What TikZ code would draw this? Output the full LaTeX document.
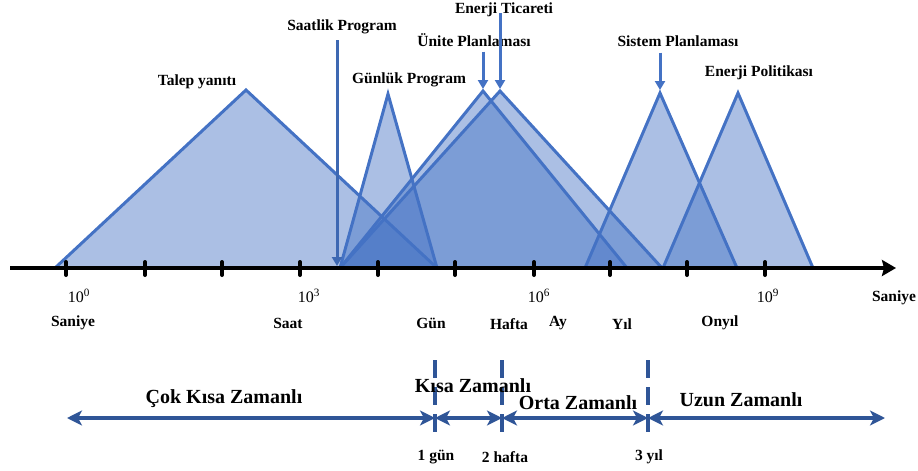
\documentclass[tikz,border=0pt]{standalone}
\usepackage{fontspec}
\setmainfont{Liberation Serif}
\usetikzlibrary{arrows.meta,positioning,calc}
\definecolor{tribl}{RGB}{68,114,196}
\definecolor{pinbl}{RGB}{62,104,178}
\definecolor{spanbl}{RGB}{47,85,151}
\tikzset{
  tri/.style    = { draw=tribl, line width=3pt, fill=tribl, fill opacity=0.45 },
  pin/.style    = { draw=#1, line width=3pt, -{Triangle[length=9pt,width=10pt]} },
  pin/.default  = tribl,
  axisln/.style = { draw=black, line width=4pt, -{Stealth[length=14pt,width=16pt,inset=2pt]} },
  tickln/.style = { draw=black, line width=4pt, line cap=round },
  sepln/.style  = { draw=spanbl, line width=4pt, dash pattern=on 18pt off 9pt },
  spanln/.style = { draw=spanbl, line width=3.5pt,
    {Stealth[length=15pt,width=15pt,inset=4pt]}-{Stealth[length=15pt,width=15pt,inset=4pt]} },
  lbl/.style    = { font=\fontsize{15.5}{17}\selectfont\bfseries, inner sep=0pt },
  pwlbl/.style  = { font=\fontsize{16}{18}\selectfont, inner sep=0pt },
  spanlbl/.style= { font=\fontsize{20}{22}\selectfont\bfseries, inner sep=0pt }
}

\begin{document}
\begin{tikzpicture}[x=1pt,y=-1pt]
  \useasboundingbox (0,0) rectangle (918,471);
  % apexes of the time-scale triangles
  \coordinate (apTalep)  at (246,90);
  \coordinate (apGunluk) at (388,94);
  \coordinate (apUnite)  at (483,91);
  \coordinate (apTicar)  at (500,91);
  \coordinate (apSistem) at (660,93);
  \coordinate (apPolit)  at (738,93);
  \coordinate (apSaat)   at (337,266);

  \path[tri] (55,268) -- (apTalep) -- (437,268) -- cycle;
  \path[tri] (340,268) -- (apGunluk) -- (437,268) -- cycle;
  \path[tri] (340,268) -- (apUnite) -- (627,268) -- cycle;
  \path[tri] (340,268) -- (apTicar) -- (662,268) -- cycle;
  \path[tri] (585,268) -- (apSistem) -- (737,268) -- cycle;
  \path[tri] (663,268) -- (apPolit) -- (813,268) -- cycle;

  % labels above
  \node[lbl] (talep)   at (197,82) {Talep yanıtı};
  \node[lbl] (saatlik) at (342,27) {Saatlik Program};
  \node[lbl] (gunluk)  at (409,80) {Günlük Program};
  \node[lbl] (unite)   at (474,40) {Ünite Planlaması};
  \node[lbl] (ticaret) at (504,10) {Enerji Ticareti};
  \node[lbl] (sistem)  at (678,41) {Sistem Planlaması};
  \node[lbl] (politik) at (759,73) {Enerji Politikası};

  \draw[pin=pinbl, shorten <=6pt] (saatlik.south -| apSaat) -- (apSaat);
  \draw[pin, shorten <=5pt] (unite.south -| apUnite) -- ($(apUnite)+(0,-2)$);
  \draw[pin, shorten <=3pt] (ticaret.center -| apTicar) -- ($(apTicar)+(0,-2)$);
  \draw[pin, shorten <=6pt] (sistem.south -| apSistem) -- ($(apSistem)+(0,-3)$);

  % time axis
  \coordinate (ax0) at (10,268);
  \coordinate (ax1) at (896,268);
  \draw[axisln] (ax0) -- (ax1);
  \foreach \tx in {66,145,222,300,378,455,534,610,687,765}
    \draw[tickln] (\tx,262) -- (\tx,275);

  \node[pwlbl] (p0) at (79,296)  {10\textsuperscript{0}};
  \node[pwlbl] (p3) at (309,296) {10\textsuperscript{3}};
  \node[pwlbl] (p6) at (539,296) {10\textsuperscript{6}};
  \node[pwlbl] (p9) at (768,296) {10\textsuperscript{9}};
  \node[lbl] (unit)   at (894,298) {Saniye};
  \node[lbl] (saniye) at (73,323)  {Saniye};
  \node[lbl] (saat)   at (288,323) {Saat};
  \node[lbl] (gun)    at (431,323) {Gün};
  \node[lbl] (hafta)  at (509,324) {Hafta};
  \node[lbl] (ay)     at (558,323) {Ay};
  \node[lbl] (yil)    at (622,324) {Yıl};
  \node[lbl] (onyil)  at (720,323) {Onyıl};

  % planning horizons
  \coordinate (s0) at (67,418);
  \coordinate (s1) at (435,418);
  \coordinate (s2) at (502,418);
  \coordinate (s3) at (648,418);
  \coordinate (s4) at (885,418);
  \foreach \sx in {435,502,648}
    \draw[sepln] (\sx,360) -- (\sx,438);
  \draw[spanln] (s0) -- (s1);
  \draw[spanln] (s1) -- (s2);
  \draw[spanln] (s2) -- (s3);
  \draw[spanln] (s3) -- (s4);

  \node[spanlbl] (cokkisa) at (224,399) {Çok Kısa Zamanlı};
  \node[spanlbl] (kisa)    at (473,386) {Kısa Zamanlı};
  \node[spanlbl] (orta)    at (578,403) {Orta Zamanlı};
  \node[spanlbl] (uzun)    at (741,400) {Uzun Zamanlı};
  \node[lbl] (gun1)   at (436,457) {1 gün};
  \node[lbl] (hafta2) at (505,457) {2 hafta};
  \node[lbl] (yil3)   at (649,457) {3 yıl};
\end{tikzpicture}
\end{document}
